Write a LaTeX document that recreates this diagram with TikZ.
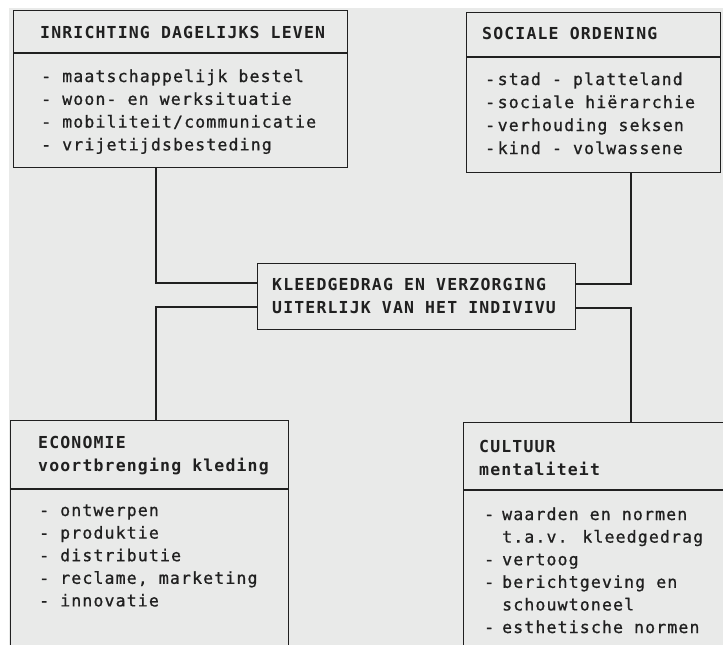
\documentclass[tikz,border=0pt]{standalone}
\usepackage{fontspec}
\newfontfamily\dmono[LetterSpace=7]{DejaVu Sans Mono}
\newfontfamily\dmonoit[LetterSpace=7,FakeBold=0.9]{DejaVu Sans Mono}
\definecolor{paper}{RGB}{233,234,233}
\definecolor{ink}{RGB}{32,32,32}
\newcommand\dsh[1]{\makebox[#1][l]{-}}
\begin{document}
\begin{tikzpicture}[x=1pt,y=-1pt,
  box/.style={draw=ink, line width=1.3pt, inner sep=0pt, anchor=north west},
  hd/.style={font=\dmono\bfseries\fontsize{16.5}{20}\selectfont, text=ink, inner sep=0pt, anchor=base west},
  it/.style={font=\dmonoit\fontsize{16.5}{20}\selectfont, text=ink, inner sep=0pt, anchor=base west},
  conn/.style={draw=ink, line width=1.3pt}]
\useasboundingbox (0,0) rectangle (723,645);
\clip (0,0) rectangle (723,645);
\fill[white] (0,0) rectangle (723,645);
\fill[paper] (9,8) rectangle (723,645);

% boxes
\node[box, minimum width=334pt, minimum height=157pt] (b1) at (13,10) {};
\node[box, minimum width=254pt, minimum height=160pt] (b2) at (466,12) {};
\node[box, minimum width=318pt, minimum height=66pt] (b3) at (257,263) {};
\node[box, minimum width=278pt, minimum height=260pt] (b4) at (10,420) {};
\node[box, minimum width=300pt, minimum height=260pt] (b5) at (463,422) {};

% dividers
\coordinate (d1) at (0,53);
\coordinate (d2) at (0,57);
\coordinate (d4) at (0,489);
\coordinate (d5) at (0,490);
\draw[conn] (b1.west |- d1) -- (b1.east |- d1);
\draw[conn] (b2.west |- d2) -- (b2.east |- d2);
\draw[conn] (b4.west |- d4) -- (b4.east |- d4);
\draw[conn] (b5.west |- d5) -- (b5.east |- d5);

% connectors
\coordinate (k1) at (156,283);
\coordinate (k2) at (156,307);
\coordinate (k3) at (631,284);
\coordinate (k4) at (631,308);
\draw[conn] (b1.south -| k1) |- (b3.west |- k1);
\draw[conn] (b3.west |- k2) -| (b4.north -| k2);
\draw[conn] (b2.south -| k3) |- (b3.east |- k3);
\draw[conn] (b3.east |- k4) -| (b5.north -| k4);

% box 1
\node[hd] (t1) at (40,38) {INRICHTING DAGELIJKS LEVEN};
\foreach \t [count=\i] in {maatschappelijk bestel, woon- en werksituatie, mobiliteit/communicatie, vrijetijdsbesteding}
  \node[it] (b1i\i) at (41,{82+22.8*(\i-1)}) {- \t};

% box 2
\node[hd] (t2) at (482,39) {SOCIALE ORDENING};
\foreach \t [count=\i] in {stad - platteland, sociale hiërarchie, verhouding seksen, kind - volwassene}
  \node[it] (b2i\i) at (485,{85+23*(\i-1)}) {\dsh{12.5pt}\t};

% box 3
\node[hd] (t3a) at (272,290) {KLEEDGEDRAG EN VERZORGING};
\node[hd] (t3b) at (272,313) {UITERLIJK VAN HET INDIVIVU};

% box 4
\node[hd] (t4a) at (38,448) {ECONOMIE};
\node[hd] (t4b) at (38,471) {voortbrenging kleding};
\foreach \t [count=\i] in {ontwerpen, produktie, distributie, {reclame, marketing}, innovatie}
  \node[it] (b4i\i) at (39,{516+22.6*(\i-1)}) {- \t};

% box 5
\node[hd] (t5a) at (479,452) {CULTUUR};
\node[hd] (t5b) at (479,475) {mentaliteit};
\node[it] (b5i1) at (484,520) {\dsh{18pt}waarden en normen};
\node[it] (b5i2) at (502,542.6) {t.a.v. kleedgedrag};
\node[it] (b5i3) at (484,565.2) {\dsh{18pt}vertoog};
\node[it] (b5i4) at (484,587.8) {\dsh{18pt}berichtgeving en};
\node[it] (b5i5) at (502,610.4) {schouwtoneel};
\node[it] (b5i6) at (484,633) {\dsh{18pt}esthetische normen};
\end{tikzpicture}
\end{document}
